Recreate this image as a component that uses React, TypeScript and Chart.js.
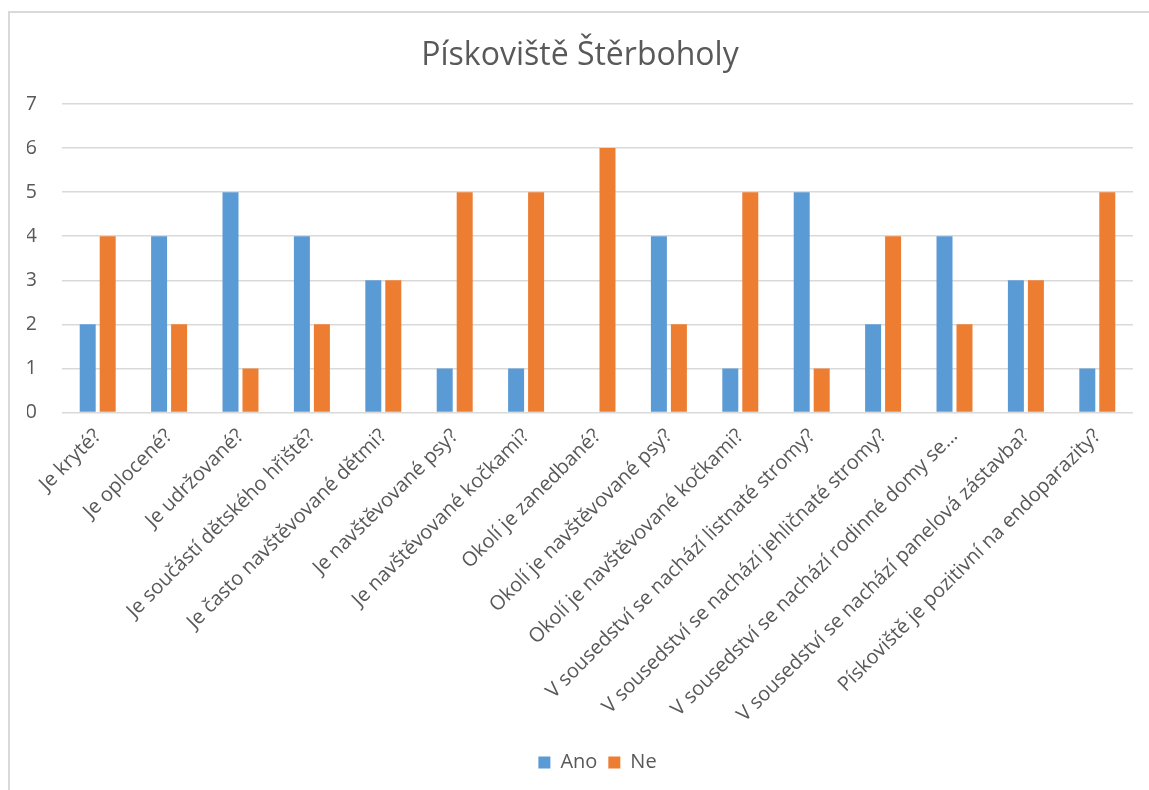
import React, { useEffect, useRef } from "react";
import { Chart, registerables } from "chart.js";

Chart.register(...registerables);

const chartTitle = "Pískoviště Štěrboholy";

const categories = [
  "Je kryté?",
  "Je oplocené?",
  "Je udržované?",
  "Je součástí dětského hřiště?",
  "Je často navštěvované dětmi?",
  "Je navštěvované psy?",
  "Je navštěvované kočkami?",
  "Okolí je zanedbané?",
  "Okolí je navštěvované psy?",
  "Okolí je navštěvované kočkami?",
  "V sousedství se nachází listnaté stromy?",
  "V sousedství se nachází jehličnaté stromy?",
  "V sousedství se nachází rodinné domy se…",
  "V sousedství se nachází panelová zástavba?",
  "Pískoviště je pozitivní na endoparazity?",
];

const anoValues = [2, 4, 5, 4, 3, 1, 1, 0, 4, 1, 5, 2, 4, 3, 1];
const neValues = [4, 2, 1, 2, 3, 5, 5, 6, 2, 5, 1, 4, 2, 3, 5];

const seriesNames = ["Ano", "Ne"];
const seriesColors = ["#5B9BD5", "#ED7D31"];

const yMin = 0;
const yMax = 7;

const FONT = "'Open Sans', sans-serif";
const TEXT = "#595959";
const GRID = "#D9D9D9";

export default function App() {
  const canvasRef = useRef<HTMLCanvasElement | null>(null);

  useEffect(() => {
    const canvas = canvasRef.current;
    if (!canvas) return;
    const chart = new Chart(canvas, {
      type: "bar",
      data: {
        labels: categories,
        datasets: [
          {
            label: seriesNames[0],
            data: anoValues,
            backgroundColor: seriesColors[0],
            borderWidth: 0,
            categoryPercentage: 0.56,
            barPercentage: 0.8,
          },
          {
            label: seriesNames[1],
            data: neValues,
            backgroundColor: seriesColors[1],
            borderWidth: 0,
            categoryPercentage: 0.56,
            barPercentage: 0.8,
          },
        ],
      },
      options: {
        animation: false,
        responsive: false,
        maintainAspectRatio: false,
        layout: { padding: { left: 27, right: 16, top: 0, bottom: 7.5 } },
        plugins: {
          title: {
            display: true,
            text: chartTitle,
            color: TEXT,
            font: { family: FONT, size: 32, weight: "normal" },
            padding: { top: 37, bottom: 28.6 },
          },
          legend: {
            display: true,
            position: "bottom",
            fullSize: false,
            labels: {
              color: TEXT,
              font: { family: FONT, size: 20 },
              boxWidth: 12,
              boxHeight: 12,
              padding: 11,
            },
          },
          tooltip: { enabled: false },
        },
        scales: {
          x: {
            grid: { display: false, drawTicks: false },
            border: { display: false },
            ticks: {
              color: TEXT,
              font: { family: FONT, size: 20 },
              maxRotation: 45,
              minRotation: 45,
              autoSkip: false,
              padding: 12,
            },
            afterFit: (scale: any) => {
              scale.height = 329;
            },
          },
          y: {
            min: yMin,
            max: yMax,
            grid: { color: GRID, lineWidth: 1.5, drawTicks: false },
            border: { display: false },
            ticks: {
              stepSize: 1,
              color: TEXT,
              font: { family: FONT, size: 20 },
              padding: 25,
            },
            afterFit: (scale: any) => {
              scale.width = 35;
            },
          },
        },
      },
    });
    return () => chart.destroy();
  }, []);

  return (
    <div
      style={{
        position: "fixed",
        left: 0,
        top: 0,
        width: 1149,
        height: 790,
        overflow: "hidden",
        background: "#ffffff",
      }}
    >
      <div
        style={{
          position: "absolute",
          left: 8,
          top: 11,
          width: 2000,
          height: 2000,
          borderLeft: "2px solid #D9D9D9",
          borderTop: "2px solid #D9D9D9",
        }}
      />
      <canvas
        ref={canvasRef}
        width={1149}
        height={790}
        style={{ position: "absolute", left: 0, top: 0, width: 1149, height: 790 }}
      />
    </div>
  );
}
